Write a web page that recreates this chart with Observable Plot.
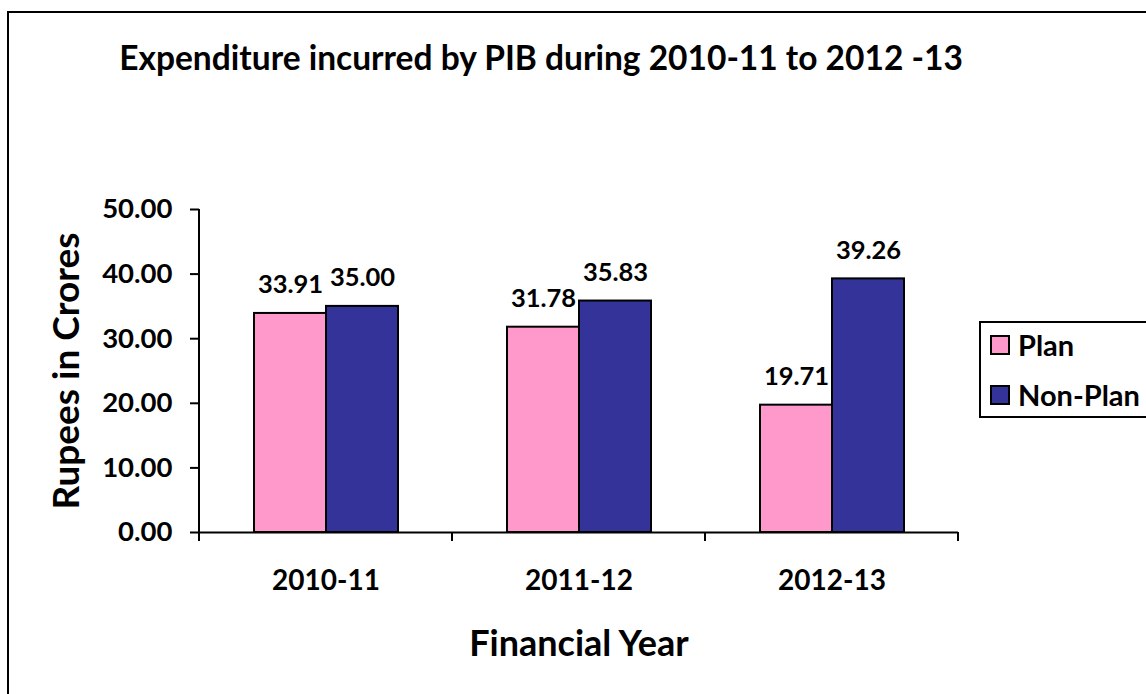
<!DOCTYPE html>
<html><head><meta charset="utf-8">
<script src="https://cdn.jsdelivr.net/npm/d3@7"></script>
<script src="https://cdn.jsdelivr.net/npm/@observablehq/plot@0.6"></script>
<style>
html,body{margin:0;padding:0;overflow:hidden;background:#fff;}
#wrap{position:relative;width:1146px;height:694px;overflow:hidden;font-family:Lato,sans-serif;font-weight:bold;color:#000;}
#wrap svg{position:absolute;left:0;top:0;}
.abs{position:absolute;white-space:nowrap;}
#border{left:7px;top:11px;width:2000px;height:2000px;border:2px solid #000;}
#title{left:0;top:41px;width:1082px;text-align:center;font-size:33.5px;line-height:33.5px;}
#legend{left:979px;top:321px;width:300px;height:93px;border:2px solid #000;}
.sw{width:16px;height:16px;border:2px solid #000;}
.lt{font-size:29px;line-height:29px;}
</style></head><body><div id="wrap">
<div id="border" class="abs"></div>
<div id="title" class="abs">Expenditure incurred by PIB during 2010-11 to 2012 -13</div>
</div>
<script>
const years = ["2010-11", "2011-12", "2012-13"];
const series = ["Plan", "Non-Plan"];
const plan = [33.91, 31.78, 19.71];
const nonPlan = [35.00, 35.83, 39.26];
const yTicks = [0, 10, 20, 30, 40, 50];
const colors = ["#FF99CC", "#333399"];
const yLabel = "Rupees in Crores";
const xLabel = "Financial Year";

const data = years.flatMap((y, i) => [
  {year: y, series: series[0], value: plan[i]},
  {year: y, series: series[1], value: nonPlan[i]}
]);

const plot = Plot.plot({
  width: 1146, height: 694,
  marginLeft: 199, marginRight: 188, marginTop: 209, marginBottom: 162,
  style: {fontFamily: "Lato, sans-serif", fontWeight: "bold", color: "#000", background: "transparent", overflow: "visible"},
  fx: {domain: years, padding: 0},
  x: {domain: series, paddingInner: 0, paddingOuter: 0.745, axis: null},
  y: {domain: [0, 50]},
  color: {domain: series, range: colors},
  marks: [
    Plot.barY(data, {fx: "year", x: "series", y: "value", fill: "series", stroke: "#000", strokeWidth: 2}),
    Plot.text(data, {fx: "year", x: "series", y: "value", text: d => d.value.toFixed(2), dy: -20, lineAnchor: "bottom", fontSize: 25.5, fontWeight: "bold", fill: "#000"}),
    Plot.ruleY([0], {stroke: "#000", strokeWidth: 2}),
    Plot.axisY({ticks: yTicks, tickFormat: d => d.toFixed(2), tickSize: 9, tickPadding: 18, fontSize: 27.5, fontWeight: "bold", label: null, strokeWidth: 2}),
    Plot.axisY({ticks: [], label: yLabel, labelArrow: "none", labelAnchor: "center", labelOffset: 147, fontSize: 37, fontWeight: "bold"}),
    Plot.axisFx({anchor: "bottom", tickSize: 0, tickPadding: 38, fontSize: 28, fontWeight: "bold", label: null}),
    Plot.axisFx({anchor: "bottom", ticks: [], label: xLabel, labelArrow: "none", labelAnchor: "center", labelOffset: 123, fontSize: 36, fontWeight: "bold"})
  ]
});

const wrap = document.getElementById("wrap");
wrap.appendChild(plot);

// axis line and category boundary ticks from Plot's own scales
const fx = plot.scale("fx");
const ys = plot.scale("y");
const svg = d3.select(plot);
const x0 = fx.apply(years[0]);
const y0 = ys.apply(0), y1 = ys.apply(50);
const g = svg.append("g").attr("stroke", "#000").attr("stroke-width", 2);
g.append("line").attr("x1", x0).attr("x2", x0).attr("y1", y1).attr("y2", y0 + 1);
const bounds = years.map(y => fx.apply(y)).concat([fx.apply(years[years.length - 1]) + fx.step]);
bounds.forEach(b => g.append("line").attr("x1", b).attr("x2", b).attr("y1", y0).attr("y2", y0 + 9));

// legend
const legend = document.createElement("div");
legend.id = "legend"; legend.className = "abs";
wrap.appendChild(legend);
series.forEach((s, i) => {
  const sw = document.createElement("div");
  sw.className = "abs sw";
  sw.style.left = "990px"; sw.style.top = (335 + i * 50) + "px";
  sw.style.background = colors[i];
  wrap.appendChild(sw);
  const t = document.createElement("div");
  t.className = "abs lt";
  t.style.left = "1018px"; t.style.top = (330 + i * 50) + "px";
  t.textContent = s;
  wrap.appendChild(t);
});
</script>
</body></html>
